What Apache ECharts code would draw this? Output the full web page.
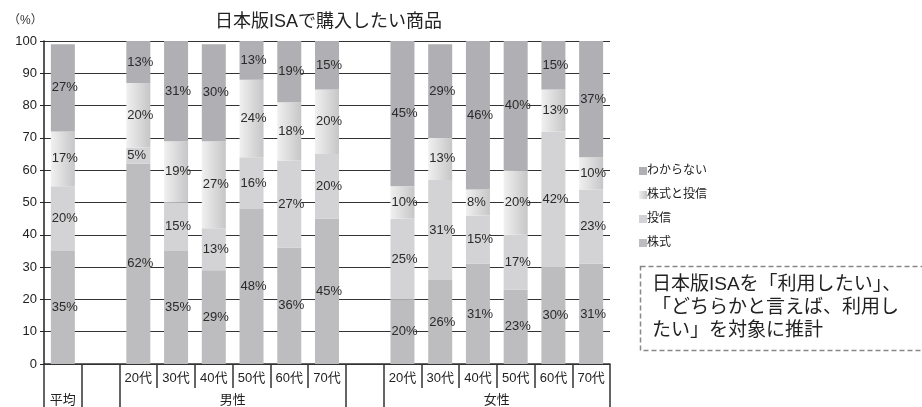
<!DOCTYPE html>
<html><head><meta charset="utf-8">
<script src="https://cdn.jsdelivr.net/npm/echarts@6/dist/echarts.min.js"></script>
<style>html,body{margin:0;padding:0;background:#fff}#c{width:922px;height:407px}</style>
</head><body><div id="c"></div>
<script>
const categories = ['平均','','20代','30代','40代','50代','60代','70代','','20代','30代','40代','50代','60代','70代'];
const groupLabels = ['平均','男性','女性'];
const groupCenters = [0.5, 5, 12];
const groupBounds = [0, 1, 2, 8, 9, 15];
const seriesNames = ['株式','投信','株式と投信','わからない'];
const stock   = [35,null,62,35,29,48,36,45,null,20,26,31,23,30,31];
const toushin = [20,null,5,15,13,16,27,20,null,25,31,15,17,42,23];
const both    = [17,null,20,19,27,24,18,20,null,10,13,8,20,13,10];
const unknown = [27,null,13,31,30,13,19,15,null,45,29,46,40,15,37];
const yTicks = [0,10,20,30,40,50,60,70,80,90,100];

const FONT = "'Liberation Sans','Noto Sans CJK JP',sans-serif";
const chart = echarts.init(document.getElementById('c'));
const colors = [
  '#bdbdbf',
  '#d3d3d5',
  new echarts.graphic.LinearGradient(0,0,1,0,[{offset:0,color:'#f0f0f0'},{offset:1,color:'#c6c6c8'}]),
  '#b0b0b4'
];
const dataArr = [stock, toushin, both, unknown];
const series = seriesNames.map((n,i)=>({
  name:n, type:'bar', stack:'all', barWidth:24, xAxisIndex:0,
  data:dataArr[i],
  itemStyle:{color:colors[i]},
  label:{show:true, position:'insideLeft', distance:1, fontSize:13, fontFamily:FONT, color:'#2a2a2a',
    formatter:p=>p.value==null?'':p.value+'%'}
}));

chart.setOption({
  animation:false,
  textStyle:{fontFamily:FONT},
  title:{text:'日本版ISAで購入したい商品', left:210, top:8,
    textStyle:{fontSize:18, fontWeight:'normal', color:'#222', fontFamily:FONT}},
  legend:{orient:'vertical', left:634, top:160, itemWidth:8, itemHeight:8, itemGap:12,
    icon:'rect', data:['わからない','株式と投信','投信','株式'],
    textStyle:{fontSize:12, color:'#222', fontFamily:FONT, padding:[0,0,0,-5]}},
  grid:{left:44, right:312, top:41, bottom:43, containLabel:false},
  xAxis:[
    {type:'category', data:categories, position:'bottom',
      axisLine:{show:true, lineStyle:{color:'#333', width:1.5}},
      axisTick:{show:true, interval:0, length:24, lineStyle:{color:'#333', width:1.5}},
      axisLabel:{interval:0, margin:8, fontSize:13, color:'#222', fontFamily:FONT,
        formatter:(v,i)=> i===0 ? '' : v}},
    {type:'value', min:0, max:15, position:'bottom',
      axisLine:{show:false}, splitLine:{show:false},
      axisTick:{show:true, customValues:groupBounds, length:44, lineStyle:{color:'#333', width:1.5}},
      axisLabel:{show:true, customValues:groupCenters, margin:30, fontSize:13, color:'#222', fontFamily:FONT,
        formatter:(v)=>{const k=groupCenters.indexOf(v); return k>=0?groupLabels[k]:'';}}}
  ],
  yAxis:{type:'value', min:0, max:100, interval:10,
    axisLine:{show:true, lineStyle:{color:'#222', width:1.5}},
    axisTick:{show:true, length:4, lineStyle:{color:'#222'}},
    axisLabel:{fontSize:13, color:'#222', margin:7, fontFamily:FONT,
      formatter:v=> yTicks.indexOf(v)>=0 ? String(v) : ''},
    splitLine:{show:true, lineStyle:{color:'#333', width:1}}},
  graphic:[
    {type:'text', left:8, top:15, style:{text:'（%）', fontSize:12, fill:'#333', fontFamily:FONT}},
    {type:'rect', shape:{x:640.5, y:266.5, width:290, height:84},
      style:{fill:'none', stroke:'#888', lineWidth:1.5, lineDash:[5,3]}},
    {type:'text', x:652, y:273, style:{text:'日本版ISAを「利用したい」、\n「どちらかと言えば、利用し\nたい」を対象に推計',
      fontSize:19, lineHeight:23, fill:'#222', fontFamily:FONT}}
  ],
  series:series
});
</script></body></html>
